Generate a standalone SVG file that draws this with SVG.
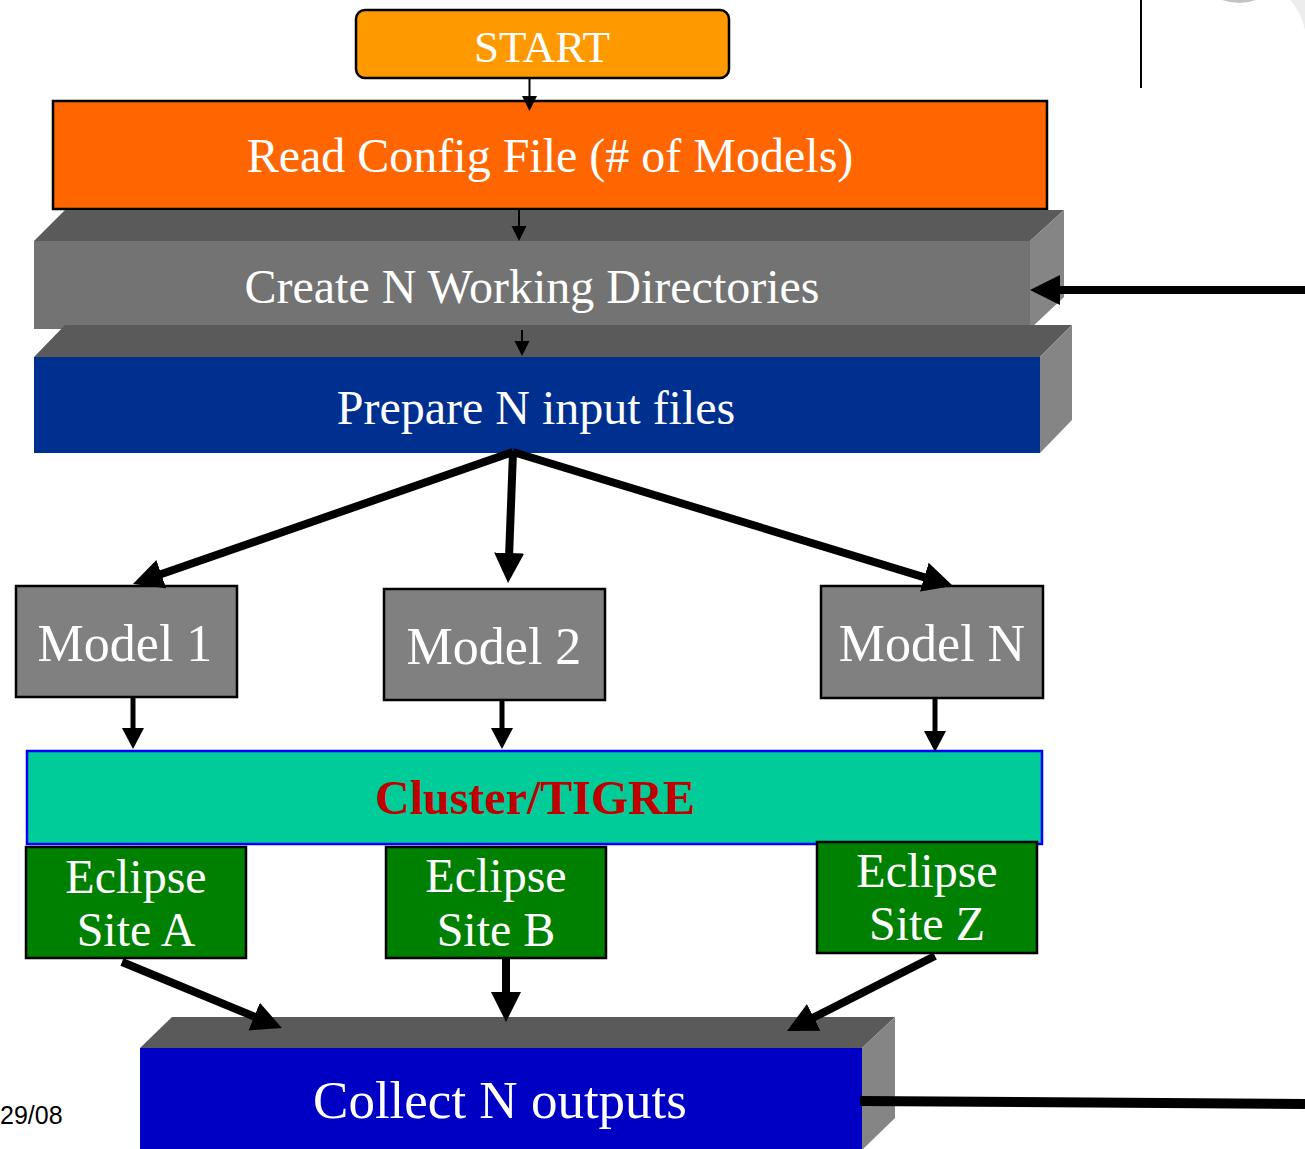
<svg xmlns="http://www.w3.org/2000/svg" width="1305" height="1149" viewBox="0 0 1305 1149">
<style>
.t{font-family:"Liberation Serif","Times New Roman",serif;fill:#FFFFFF;text-anchor:middle}
.f48{font-size:48px}
.f52{font-size:52px}
.top{fill:#5A5A5A}
.side{fill:#858585}
.box{stroke:#000000;stroke-width:2.5}
.ln{stroke:#000000;fill:none}
</style>
<defs>
<marker id="aS" markerUnits="userSpaceOnUse" viewBox="0 -8 16 16" markerWidth="16" markerHeight="16" refX="1" refY="0" orient="auto"><path d="M0,-7.5 L15,0 L0,7.5 z" fill="#000"/></marker>
<marker id="aM" markerUnits="userSpaceOnUse" viewBox="0 -12 22 24" markerWidth="22" markerHeight="24" refX="1" refY="0" orient="auto"><path d="M0,-11 L21,0 L0,11 z" fill="#000"/></marker>
<marker id="aL" markerUnits="userSpaceOnUse" viewBox="0 -16 31 32" markerWidth="31" markerHeight="32" refX="2" refY="0" orient="auto"><path d="M0,-15 L30,0 L0,15 z" fill="#000"/></marker>
</defs>
<rect width="1305" height="1149" fill="#FFFFFF"/>
<line x1="1141" y1="0" x2="1141" y2="88" stroke="#000" stroke-width="2"/>
<path d="M1222,0 Q1240,6 1256,0 z" fill="#C4C4C4"/>
<path d="M1290,0 Q1301,12 1305,30 L1305,0 z" fill="#EDEDED"/>

<g id="start">
<rect x="356" y="10" width="373" height="68" rx="9" fill="#FF9900" class="box"/>
<text class="t" x="542" y="62" font-size="45">START</text>
</g>
<g id="read-config">
<rect x="53" y="101" width="994" height="108" fill="#FF6600" class="box"/>
<text class="t f48" x="550" y="172">Read Config File (# of Models)</text>
</g>
<g id="create-dirs">
<polygon class="top" points="34,241 65,210 1064,210 1030,241"/>
<rect x="34" y="241" width="996" height="88" fill="#737373"/>
<polygon class="side" points="1030,241 1064,210 1064,297 1030,329"/>
<text class="t f48" x="532" y="303" fill="#F4F4F4">Create N Working Directories</text>
</g>
<g id="prepare-inputs">
<polygon class="top" points="34,357 65,325 1072,325 1040,357"/>
<rect x="34" y="357" width="1006" height="96" fill="#00308F"/>
<polygon class="side" points="1040,357 1072,325 1072,420 1040,453"/>
<text class="t f48" x="536" y="424">Prepare N input files</text>
</g>
<g id="model-1">
<rect x="16" y="586" width="221" height="111" fill="#808080" class="box"/>
<text class="t f52" x="125" y="661">Model 1</text>
</g>
<g id="model-2">
<rect x="384" y="589" width="221" height="111" fill="#808080" class="box"/>
<text class="t f52" x="494" y="664">Model 2</text>
</g>
<g id="model-n">
<rect x="821" y="586" width="222" height="112" fill="#808080" class="box"/>
<text class="t f52" x="932" y="661">Model N</text>
</g>
<g id="cluster">
<rect x="27" y="751" width="1015" height="93" fill="#00CC99" stroke="#0000FF" stroke-width="2.5"/>
<text x="535" y="814" font-family="'Liberation Serif','Times New Roman',serif" font-size="48" font-weight="bold" fill="#C00000" text-anchor="middle">Cluster/TIGRE</text>
</g>
<g id="site-a">
<rect x="26" y="847" width="220" height="111" fill="#008000" class="box"/>
<text class="t f48" x="136" y="893">Eclipse</text>
<text class="t f48" x="136" y="946">Site A</text>
</g>
<g id="site-b">
<rect x="386" y="847" width="220" height="111" fill="#008000" class="box"/>
<text class="t f48" x="496" y="892">Eclipse</text>
<text class="t f48" x="496" y="946">Site B</text>
</g>
<g id="site-z">
<rect x="817" y="842" width="220" height="111" fill="#008000" class="box"/>
<text class="t f48" x="927" y="887">Eclipse</text>
<text class="t f48" x="927" y="940">Site Z</text>
</g>
<g id="collect">
<polygon class="top" points="140,1048 172,1017 895,1017 862,1048"/>
<rect x="140" y="1048" width="722" height="102" fill="#0000C4"/>
<polygon class="side" points="862,1048 895,1017 895,1118 862,1150"/>
<text class="t" x="500" y="1118" font-size="53">Collect N outputs</text>
</g>
<text x="0" y="1124" font-family="'Liberation Sans',Arial,sans-serif" font-size="25" fill="#000">29/08</text>

<g id="connectors">
<line class="ln" x1="529.5" y1="78" x2="529.5" y2="97" stroke-width="2" marker-end="url(#aS)"/>
<line class="ln" x1="519" y1="209" x2="519" y2="227" stroke-width="2" marker-end="url(#aS)"/>
<line class="ln" x1="522" y1="330" x2="522" y2="342" stroke-width="2" marker-end="url(#aS)"/>
<line class="ln" x1="1305" y1="290" x2="1058" y2="290" stroke-width="8" marker-end="url(#aL)"/>
<line class="ln" x1="513" y1="452" x2="159.4" y2="574.8" stroke-width="8" marker-end="url(#aL)"/>
<line class="ln" x1="513" y1="452" x2="509.1" y2="555" stroke-width="8" marker-end="url(#aL)"/>
<line class="ln" x1="513" y1="452" x2="926.2" y2="577.8" stroke-width="8" marker-end="url(#aL)"/>
<line class="ln" x1="133" y1="697" x2="133" y2="729" stroke-width="5" marker-end="url(#aM)"/>
<line class="ln" x1="502" y1="700" x2="502" y2="729" stroke-width="5" marker-end="url(#aM)"/>
<line class="ln" x1="935" y1="698" x2="935" y2="732" stroke-width="5" marker-end="url(#aM)"/>
<line class="ln" x1="122" y1="962" x2="256" y2="1017.3" stroke-width="8" marker-end="url(#aL)"/>
<line class="ln" x1="506" y1="958" x2="506" y2="994" stroke-width="8" marker-end="url(#aL)"/>
<line class="ln" x1="935" y1="956" x2="812" y2="1018.3" stroke-width="8" marker-end="url(#aL)"/>
<line class="ln" x1="860" y1="1101" x2="1305" y2="1104" stroke-width="10"/>
</g>
</svg>
